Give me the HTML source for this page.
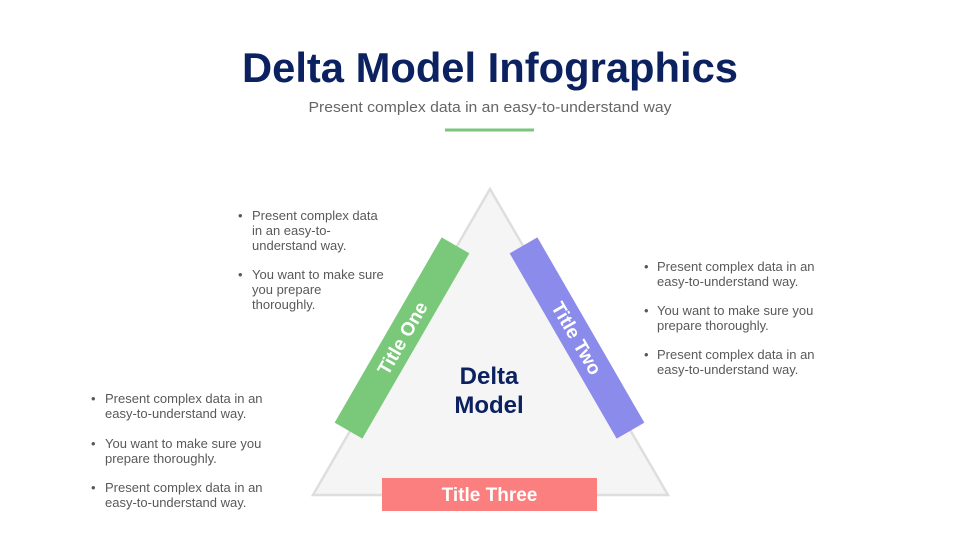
<!DOCTYPE html>
<html><head><meta charset="utf-8"><style>
html,body{margin:0;padding:0;background:#fff;}
svg{display:block;font-family:"Liberation Sans",sans-serif;}
.b{font-size:13px;fill:#595959;}
</style></head><body>
<svg width="980" height="551" viewBox="0 0 980 551">
<text x="490" y="82" text-anchor="middle" font-size="42" font-weight="bold" fill="#0c2260" textLength="496" lengthAdjust="spacingAndGlyphs">Delta Model Infographics</text>
<text x="490" y="112" text-anchor="middle" font-size="15" fill="#666" textLength="363" lengthAdjust="spacingAndGlyphs">Present complex data in an easy-to-understand way</text>
<rect x="445" y="128.5" width="89" height="3" fill="#7cc67c"/>
<polygon points="490,189 313,495 668,495" fill="#f5f5f5" stroke="#dedede" stroke-width="2.5"/>
<g transform="translate(402,338) rotate(-60)">
<rect x="-107" y="-16" width="214" height="32" fill="#7ac97a"/>
<text x="0" y="7" text-anchor="middle" font-size="19" font-weight="bold" fill="#fff">Title One</text>
</g>
<g transform="translate(577,338) rotate(60)">
<rect x="-107" y="-16" width="214" height="32" fill="#8b8beb"/>
<text x="0" y="7" text-anchor="middle" font-size="19" font-weight="bold" fill="#fff">Title Two</text>
</g>
<rect x="382" y="478" width="215" height="33" fill="#fb7f7f"/>
<text x="489.5" y="501" text-anchor="middle" font-size="19" font-weight="bold" fill="#fff">Title Three</text>
<text x="489" y="384" text-anchor="middle" font-size="24" font-weight="bold" fill="#0c2260">Delta</text>
<text x="489" y="413" text-anchor="middle" font-size="24" font-weight="bold" fill="#0c2260">Model</text>
<g class="b">
<text x="238" y="220">•</text><text x="252" y="220">Present complex data</text>
<text x="252" y="235">in an easy-to-</text><text x="252" y="250">understand way.</text>
<text x="238" y="279">•</text><text x="252" y="279">You want to make sure</text>
<text x="252" y="294">you prepare</text><text x="252" y="309">thoroughly.</text>

<text x="644" y="271">•</text><text x="657" y="271">Present complex data in an</text>
<text x="657" y="286">easy-to-understand way.</text>
<text x="644" y="315">•</text><text x="657" y="315">You want to make sure you</text>
<text x="657" y="330">prepare thoroughly.</text>
<text x="644" y="359">•</text><text x="657" y="359">Present complex data in an</text>
<text x="657" y="374">easy-to-understand way.</text>

<text x="91" y="403">•</text><text x="105" y="403">Present complex data in an</text>
<text x="105" y="418">easy-to-understand way.</text>
<text x="91" y="448">•</text><text x="105" y="448">You want to make sure you</text>
<text x="105" y="463">prepare thoroughly.</text>
<text x="91" y="492">•</text><text x="105" y="492">Present complex data in an</text>
<text x="105" y="507">easy-to-understand way.</text>
</g>
</svg>
</body></html>
